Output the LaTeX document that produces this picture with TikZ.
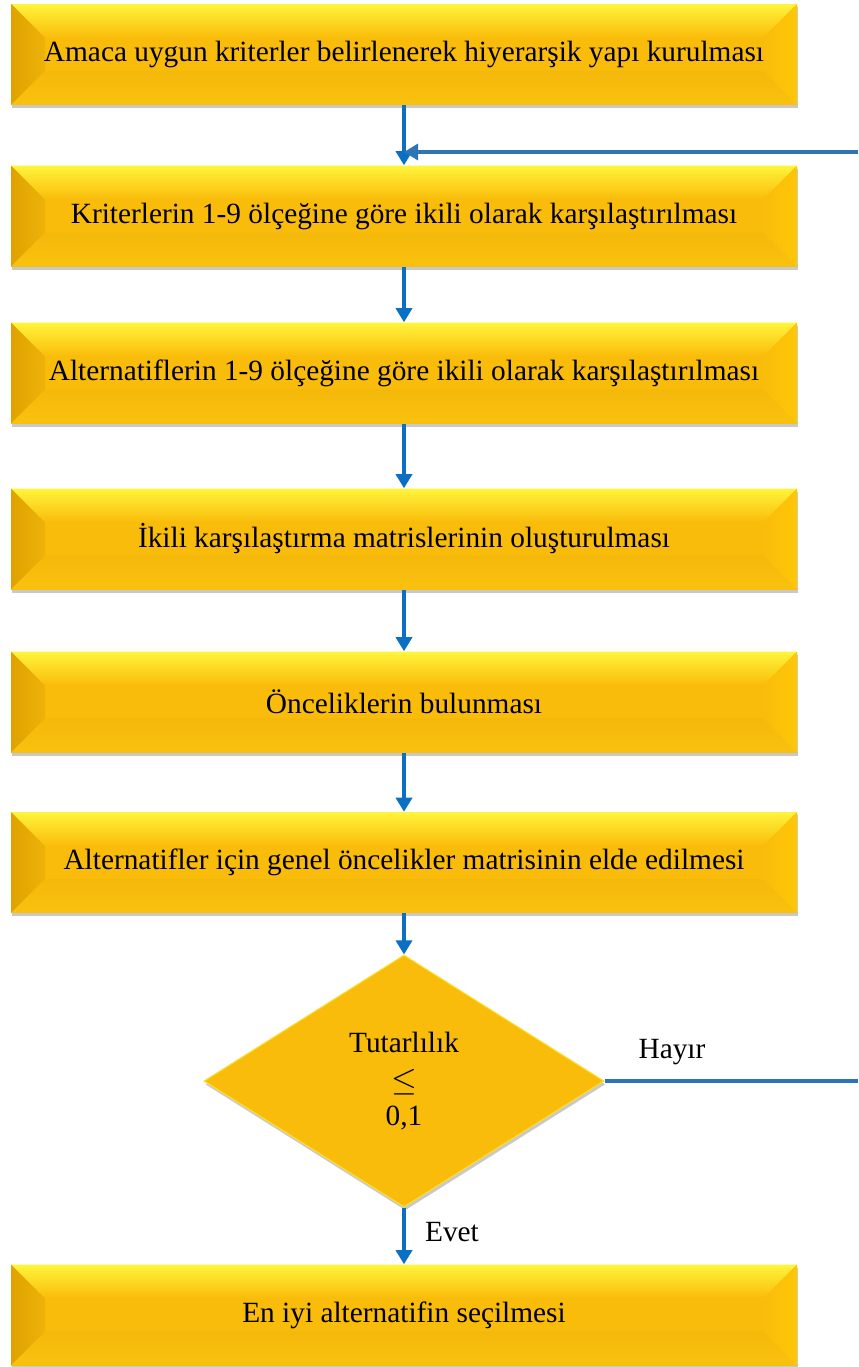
\documentclass[tikz,border=0pt]{standalone}
\usepackage{fontspec}
\setmainfont{Liberation Serif}
\usepackage{tikz}
\usetikzlibrary{arrows.meta,shapes.geometric,shadows,calc}

\definecolor{boxgold}{HTML}{F9BC0A}
\definecolor{bevtop}{HTML}{FFF43C}
\definecolor{bevleft}{HTML}{DFA200}
\definecolor{bevright}{HTML}{FFC708}
\definecolor{flowblue}{HTML}{0B6FC4}
\definecolor{loopblue}{HTML}{2E75B6}

\tikzset{
  stepbox/.style={rectangle, minimum width=589.5pt, minimum height=75.75pt,
    inner sep=0pt, fill=boxgold,
    font=\fontsize{22}{26}\selectfont,
    drop shadow={shadow xshift=1pt, shadow yshift=-2.5pt, opacity=0.3, fill=black!70},
    path picture={
      \path (path picture bounding box.north west) coordinate (bnw)
            (path picture bounding box.north east) coordinate (bne)
            (path picture bounding box.south west) coordinate (bsw)
            (path picture bounding box.south east) coordinate (bse);
      \shade[top color=bevtop, bottom color=boxgold]
        (bnw) -- (bne) -- ($(bne)+(-34,34)$) -- ($(bnw)+(34,34)$) -- cycle;
      \shade[left color=bevleft, right color=boxgold!95!black]
        (bnw) -- ($(bnw)+(34,34)$) -- ($(bsw)+(34,-34)$) -- (bsw) -- cycle;
      \shade[left color=boxgold, right color=bevright]
        (bne) -- ($(bne)+(-34,34)$) -- ($(bse)+(-34,-34)$) -- (bse) -- cycle;
      \shade[top color=boxgold!98!black, bottom color=boxgold!90!bevtop]
        (bsw) -- ($(bsw)+(34,-34)$) -- ($(bse)+(-34,-34)$) -- (bse) -- cycle;
    }},
  decisionbox/.style={diamond, minimum width=300pt, minimum height=189pt,
    inner sep=0pt, fill=boxgold, draw=bevtop!60!boxgold, line width=0.8pt,
    align=center, font=\fontsize{22}{26}\selectfont,
    drop shadow={shadow xshift=1pt, shadow yshift=-2.5pt, opacity=0.3, fill=black!70}},
  flowarrow/.style={draw=flowblue, line width=2.5pt,
    -{Triangle[width=12pt,length=10.5pt]}},
  loopline/.style={draw=loopblue, line width=2.5pt},
  edgelabel/.style={font=\fontsize{22}{26}\selectfont, inner sep=0pt}
}

\begin{document}
\begin{tikzpicture}[x=0.75pt,y=-0.75pt]
\useasboundingbox (0,0) rectangle (858,1367);

% adimlar
\node[stepbox] (hiyerarsi) at (404,54.5) {Amaca uygun kriterler belirlenerek hiyerarşik yapı kurulması};
\node[stepbox] (kriterler) at (404,216) {Kriterlerin 1-9 ölçeğine göre ikili olarak karşılaştırılması};
\node[stepbox] (alternatif) at (404,373) {Alternatiflerin 1-9 ölçeğine göre ikili olarak karşılaştırılması};
\node[stepbox] (matrisler) at (404,539) {İkili karşılaştırma matrislerinin oluşturulması};
\node[stepbox] (oncelik) at (404,702) {Önceliklerin bulunması};
\node[stepbox] (genel) at (404,862.5) {Alternatifler için genel öncelikler matrisinin elde edilmesi};
\node[decisionbox] (tutarlilik) at (404,1081) {Tutarlılık\\[3pt]{\fontsize{27}{26}\selectfont$\leq$}\\0,1};
\node[stepbox] (secim) at (404,1315) {En iyi alternatifin seçilmesi};

% oklar
\draw[flowarrow] (hiyerarsi) -- (kriterler);
\draw[flowarrow] (kriterler) -- (alternatif);
\draw[flowarrow] (alternatif) -- (matrisler);
\draw[flowarrow] (matrisler) -- (oncelik);
\draw[flowarrow] (oncelik) -- (genel);
\draw[flowarrow] (genel) -- (tutarlilik);
\draw[flowarrow] (tutarlilik) -- (secim);

% geri donus
\coordinate (geri) at (858,152);
\coordinate (hayir) at (858,1081);
\draw[loopline, -{Triangle[width=12pt,length=10.5pt]}] (geri) -- (kriterler.north |- geri);
\draw[loopline] (tutarlilik.east) -- (hayir);

\node[edgelabel] (hayirlbl) at (672,1052) {Hayır};
\node[edgelabel] (evetlbl) at (452,1232) {Evet};

\end{tikzpicture}
\end{document}
